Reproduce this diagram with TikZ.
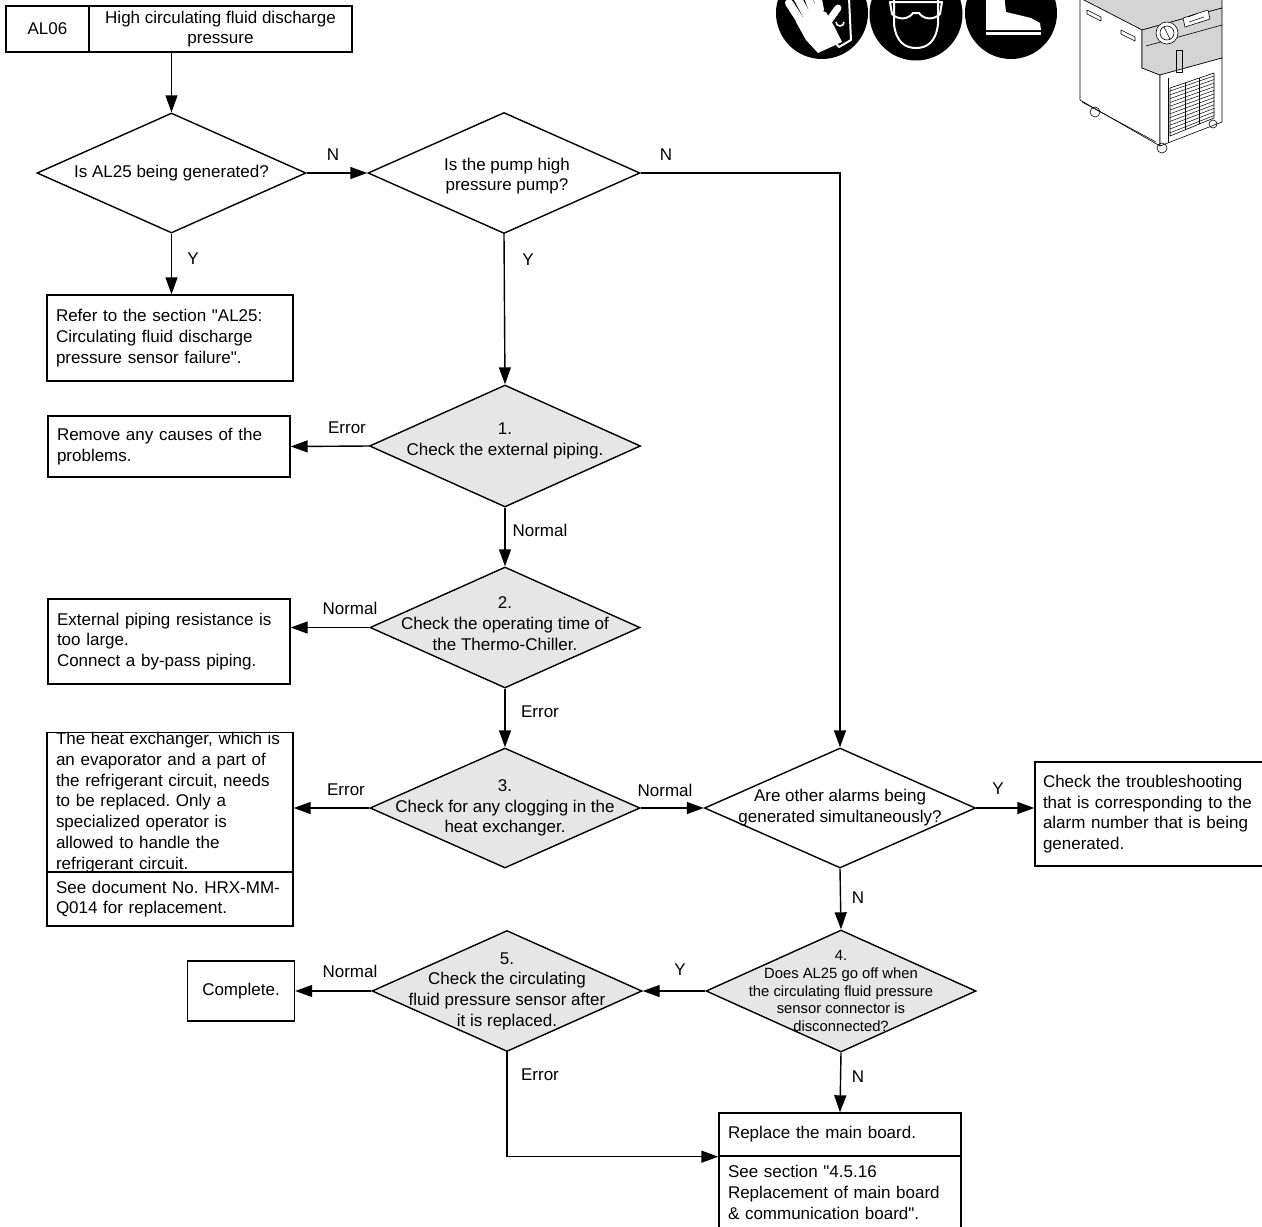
\documentclass[tikz,border=0pt]{standalone}
\usepackage{fontspec}
\setmainfont{Liberation Sans}[Ligatures=TeXOff]
\usetikzlibrary{arrows.meta,shapes.geometric}
\definecolor{diafill}{HTML}{E6E6E6}
\definecolor{bodygray}{HTML}{D4D4D4}
\frenchspacing
\begin{document}
\begin{tikzpicture}[x=1pt,y=-1pt,
  base/.style={font=\fontsize{17}{20.7}\selectfont},
  small/.style={font=\fontsize{14.8}{17.6}\selectfont},
  box/.style={base, draw, line width=1.4pt, rectangle, inner xsep=9pt, inner ysep=0pt, align=left},
  cbox/.style={base, draw, line width=1.4pt, rectangle, inner sep=0pt, align=center},
  dia/.style={draw, line width=1.4pt, diamond, inner sep=0pt, minimum width=270pt, minimum height=121pt, fill=white},
  chk/.style={dia, fill=diafill},
  dtxt/.style={base, align=center, inner sep=0pt},
  lbl/.style={base, inner sep=0pt},
  arr/.style={line width=1.4pt, -{Triangle[length=17pt,width=12pt]}},
  thin/.style={line width=0.6pt, line join=round}
]
\useasboundingbox (0,0) rectangle (1262,1227);

% ---------- safety icons ----------
\fill[black] (822,13) circle (46);
\fill[black] (916,14) circle (46.5);
\fill[black] (1011,13) circle (46);
% gloves
\draw[white, line width=2pt, line join=round] (829,-2) -- (849,-2) -- (851,40) -- (839,47) -- (833,40);
\draw[white, line width=1.6pt] (836,22) arc (180:0:4);
\fill[white] (796,22) -- (812,10) -- (826,12) -- (834,26) -- (842,42) -- (818,53) -- (806,40) -- cycle;
\draw[white, line width=8pt, line cap=round] (800,20) -- (789,3);
\draw[white, line width=8pt, line cap=round] (806,14) -- (797,-3);
\draw[white, line width=8pt, line cap=round] (813,11) -- (807,-6);
\draw[white, line width=8pt, line cap=round] (820,10) -- (817,-6);
\draw[white, line width=7pt, line cap=round] (828,22) -- (838,8);
% goggles and face
\draw[white, line width=2pt] (894,-2) -- (894,24) .. controls (896,42) and (905,48) .. (916,48)
  .. controls (927,48) and (936,42) .. (938,24) -- (938,-2);
\draw[white, line width=2pt, line join=round] (890,2) -- (942,2) -- (940,14)
  .. controls (934,20) and (924,20) .. (919,13) -- (913,13)
  .. controls (908,20) and (898,20) .. (892,14) -- cycle;
% safety boot
\fill[white] (986,-6) -- (1004,-6) -- (1006,12) -- (1031,18) -- (1040,23) -- (1041,30) -- (986,30) -- cycle;
\fill[white] (986,32) rectangle (1041,35);
\fill[black] (1011,-2) circle (1);
\fill[black] (1012,3) circle (1);
\fill[black] (1013,8) circle (1);

% ---------- chiller unit ----------
\filldraw[thin, fill=bodygray] (1080,-2) -- (1142,30) -- (1222,8) -- (1222,-2) -- cycle;
\filldraw[thin, fill=white] (1080,-2) -- (1080,100) -- (1160,146) -- (1160,75) -- (1142,68) -- (1142,30) -- cycle;
\filldraw[thin, fill=bodygray] (1142,30) -- (1142,68) -- (1160,75) -- (1222,58) -- (1222,8) -- cycle;
\draw[thin] (1146,46) -- (1222,25);
\filldraw[thin, fill=white] (1160,75) -- (1222,58) -- (1222,122) -- (1160,146) -- cycle;
\draw[thin] (1168,78) -- (1168,143);
\filldraw[thin, fill=white] (1170,88) -- (1214,73) -- (1214,118) -- (1170,136) -- cycle;
\foreach \k in {0,...,11} {
  \draw[line width=0.5pt] (1170,{91+3.8*\k}) -- (1214,{76+3.6*\k});
}
\draw[thin] (1185,83) -- (1185,130);
\draw[thin] (1199,78) -- (1199,124);
\filldraw[thin, fill=white] (1167,33) circle (11);
\draw[thin] (1167,33) circle (7);
\draw[thin] (1164,27) -- (1170,39);
\filldraw[thin, fill=white] (1183,18) -- (1208,10) -- (1210,19) -- (1185,27) -- cycle;
\draw[thin] (1188,17) -- (1196,14);
\draw[thin] (1189,22) -- (1204,17);
\draw[thin] (1176,50) rectangle (1182,72);
\draw[thin] (1087,10) -- (1101,17) -- (1101,21) -- (1087,14) -- cycle;
\draw[thin] (1121,30) -- (1135,37) -- (1135,41) -- (1121,34) -- cycle;
\draw[thin] (1082,102) -- (1156,142);
\draw[thin] (1095,112) circle (5);
\draw[thin] (1162,148) circle (5);
\draw[thin] (1213,124) circle (4);

% ---------- header ----------
\node[cbox, minimum width=83pt, minimum height=46pt] (alcode) at (47.5,29) {AL06};
\node[cbox, minimum width=263pt, minimum height=46pt] (ttl) at (220.5,29) {High circulating fluid discharge\\pressure};

% ---------- decisions ----------
\node[dia, minimum width=269pt, minimum height=120pt] (q1) at (171.5,173) {};
\node[dtxt] (q1t) at (171.5,173) {Is AL25 being generated?};
\node[dia, minimum width=272pt] (q2) at (504,173) {};
\node[dtxt] (q2t) at (507,176) {Is the pump high\\pressure pump?};
\node[chk, minimum width=271pt, minimum height=122pt] (c1) at (505,446) {};
\node[dtxt] (c1t) at (505,441) {1.\\Check the external piping.};
\node[chk] (c2) at (505,627.5) {};
\node[dtxt] (c2t) at (505,623.5) {2.\\Check the operating time of\\the Thermo-Chiller.};
\node[chk, minimum height=120pt] (c3) at (505,808) {};
\node[dtxt] (c3t) at (505,808) {3.\\Check for any clogging in the\\heat exchanger.};
\node[dia, minimum width=271pt, minimum height=120pt] (qa) at (840,808) {};
\node[dtxt] (qat) at (840,807.5) {Are other alarms being\\generated simultaneously?};
\node[chk, minimum height=122pt] (c4) at (841,991) {};
\node[dtxt, small] (c4t) at (841,991) {4.\\Does AL25 go off when\\the circulating fluid pressure\\sensor connector is\\disconnected?};
\node[chk] (c5) at (507,991) {};
\node[dtxt] (c5t) at (507,991) {5.\\Check the circulating\\fluid pressure sensor after\\it is replaced.};

% ---------- result boxes ----------
\node[box, text width=228pt, minimum height=86pt] (refer) at (170,338) {Refer to the section "AL25:\\Circulating fluid discharge\\pressure sensor failure".};
\node[box, text width=224pt, minimum height=61pt] (remove) at (169,446.5) {Remove any causes of the\\problems.};
\node[box, text width=224pt, minimum height=85pt] (bypass) at (169,641.5) {External piping resistance is\\too large.\\Connect a by-pass piping.};
\node[box, text width=228pt, minimum height=139pt] (heatup) at (170,802.5) {The heat exchanger, which is\\an evaporator and a part of\\the refrigerant circuit, needs\\to be replaced. Only a\\specialized operator is\\allowed to handle the\\refrigerant circuit.};
\node[box, text width=228pt, minimum height=54pt] (heatlo) at (170,899) {See document No. HRX-MM-\\Q014 for replacement.};
\node[cbox, minimum width=107pt, minimum height=60pt] (done) at (241,991) {Complete.};
\node[box, inner xsep=8pt, text width=213pt, minimum height=104pt] (other) at (1149.5,814) {Check the troubleshooting\\that is corresponding to the\\alarm number that is being\\generated.};
\node[box, text width=224pt, minimum height=43pt] (mbup) at (840,1134.5) {Replace the main board.};
\node[box, text width=224pt, minimum height=73pt] (mblo) at (840,1192.5) {See section "4.5.16\\Replacement of main board\\\& communication board".};

% ---------- connectors ----------
\draw[arr] (q1.north |- ttl.south) -- (q1.north);
\draw[arr] (q1.east) -- (q2.west);
\draw[arr] (q2.east) -- (qa.north |- q2.east) -- (qa.north);
\draw[arr] (q1.south) -- (q1.south |- refer.north);
\draw[arr] (q2.south) -- (c1.north);
\draw[arr] (c1.west) -- (remove.east);
\draw[arr] (c1.south) -- (c2.north);
\draw[arr] (c2.west) -- (c2.west -| bypass.east);
\draw[arr] (c2.south) -- (c3.north);
\draw[arr] (c3.west) -- (c3.west -| heatup.east);
\draw[arr] (c3.east) -- (qa.west);
\draw[arr] (qa.east) -- (qa.east -| other.west);
\draw[arr] (qa.south) -- (c4.north);
\draw[arr] (c4.west) -- (c5.east);
\draw[arr] (c5.west) -- (done.east);
\draw[arr] (c5.south) -- (c5.south |- mbup.south west) -- (mbup.south west);
\draw[arr] (c4.south) -- (mbup.north);

% ---------- connector labels ----------
\node[lbl] (lq1n) at (333,155) {N};
\node[lbl] (lq2n) at (666,155) {N};
\node[lbl] (lq1y) at (193,259) {Y};
\node[lbl] (lq2y) at (528,260) {Y};
\node[lbl] (lc1e) at (347,428) {Error};
\node[lbl] (lc1n) at (540,530) {Normal};
\node[lbl] (lc2n) at (350,608) {Normal};
\node[lbl] (lc2e) at (540,712) {Error};
\node[lbl] (lc3e) at (346,790) {Error};
\node[lbl] (lc3n) at (665,790) {Normal};
\node[lbl] (lqay) at (998,789) {Y};
\node[lbl] (lqan) at (858,898) {N};
\node[lbl] (lc4y) at (680,970) {Y};
\node[lbl] (lc5n) at (350,971) {Normal};
\node[lbl] (lc5e) at (540,1075) {Error};
\node[lbl] (lc4n) at (858,1077) {N};
\end{tikzpicture}
\end{document}
